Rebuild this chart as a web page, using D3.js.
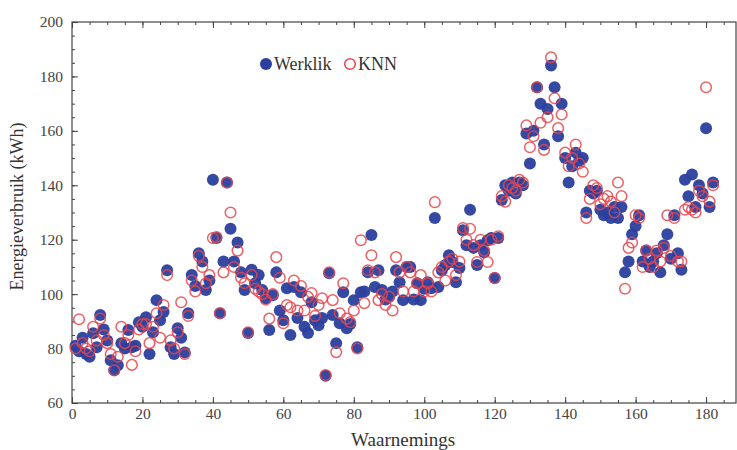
<!DOCTYPE html>
<html>
<head>
<meta charset="utf-8">
<script src="https://cdn.jsdelivr.net/npm/d3@7"></script>
<style>
  body { margin: 0; background: #fff; }
  .axis path, .axis line { stroke: #444; }
</style>
</head>
<body>
<div class="chart"></div>
<script>
var svgWidth = 737;
var svgHeight = 450;

var margin = { top: 22, right: 1, bottom: 47, left: 72 };
var width = svgWidth - margin.left - margin.right;
var height = svgHeight - margin.top - margin.bottom;

var serif = "Liberation Serif, Times New Roman, serif";

// measured energy use (Werklik) per observation
var werklik = [
  81, 79, 84, 78, 77, 85.6, 80.5, 92.3, 87, 83,
  75.7, 72, 73.9, 82, 80, 86.8, 80.5, 81, 89.7, 88,
  91.5, 78, 86, 97.8, 90.4, 93.4, 108.8, 80.5, 78, 87.5,
  84, 78.6, 93, 107, 103, 115, 112, 101.5, 105, 142,
  120.6, 93, 112, 141, 124, 112, 119, 108, 101.5, 85.7,
  109, 104, 107, 101.5, 98.5, 86.8, 99.6, 108, 94, 90.4,
  102.2, 85, 102.6, 91.2, 100.7, 88, 85.7, 97, 90.4, 88.6,
  91.2, 70, 107.7, 92.3, 82, 89.3, 100.7, 87.5, 89, 97.8,
  80.5, 100.7, 101, 108, 121.7, 102.6, 108.8, 101.5, 98, 99,
  101, 108.8, 104.4, 97.8, 110, 110, 98, 104, 97.8, 102,
  104.4, 102.2, 128, 102.6, 108.8, 110.7, 114.3, 111.8, 104.4, 109.6,
  123.5, 118, 131, 117, 110.7, 118, 115.4, 119.8, 120.6, 105.9, 120.6,
  134.6, 140, 138, 141, 137, 141, 140,
  159, 148, 160, 176, 170, 155, 168, 184, 176, 158, 170, 150,
  141, 147, 152, 149, 150, 130, 138, 137, 138, 131, 129, 130, 128, 132, 128,
  132, 108, 112, 122, 125, 129, 112, 116, 110, 112, 115, 108, 118, 122, 113,
  129, 115, 109, 142, 136, 144, 132, 140, 137, 161, 132, 141
];

// KNN predictions per observation
var knn = [
  80, 90.8, 82, 80, 79, 88, 83, 91, 85, 82,
  78, 72, 77, 88, 82, 85, 74, 79, 87, 89,
  89, 82, 88, 93, 84, 96, 107, 83, 80, 86,
  97, 78, 92, 105, 101, 114, 110, 104, 107, 120.6,
  121, 93, 108, 141, 130, 110, 116, 106, 104, 86,
  107, 102, 101, 100, 98, 91, 100, 113.6, 106, 89.3,
  96, 95.2, 105, 94, 103, 94, 99, 100.4, 92, 96,
  98.5, 70.3, 108, 97.8, 78.7, 93, 104, 91, 89.7, 94,
  80, 119.8, 96.7, 108.8, 114.3, 108, 97.8, 100, 96, 99,
  94, 113.6, 108, 101, 110, 108, 101, 104, 107, 101,
  104, 101, 133.8, 108, 110, 105, 112, 113, 107, 112,
  124.3, 120, 124, 118, 111.8, 120, 116, 111.8, 120, 105.9, 121.3,
  136, 134, 140, 139, 138, 142, 141,
  162, 154, 158, 176, 163, 153, 165, 187, 172, 161, 166, 152,
  147, 150, 155, 148, 145, 128, 135, 140, 139, 133, 135, 136, 134, 130, 141,
  136, 102, 117, 119, 129, 128, 110, 116, 113, 110, 116, 112, 117, 129, 114,
  128, 112, 112, 131, 132, 131, 130, 138, 136, 176, 134, 140
];

var xTicks = [0, 20, 40, 60, 80, 100, 120, 140, 160, 180];
var yTicks = [60, 80, 100, 120, 140, 160, 180, 200];
var seriesNames = ["Werklik", "KNN"];

var blue = "#2a3f9e";
var red = "#e8454b";

var svg = d3.select(".chart")
  .append("svg")
  .attr("width", svgWidth)
  .attr("height", svgHeight);

var chartGroup = svg.append("g")
  .attr("transform", `translate(${margin.left}, ${margin.top})`);

var xScale = d3.scaleLinear().domain([0, 188.5]).range([0, width]);
var yScale = d3.scaleLinear().domain([60, 200]).range([height, 0]);

var xMinor = d3.range(0, 189, 5);
var yMinor = d3.range(60, 201, 5);

function styleAxis(g) {
  g.select(".domain").remove();
  g.attr("font-family", serif).attr("font-size", 15.5);
  g.selectAll("text").attr("fill", "#444");
}

// minor ticks on all four sides (pointing inward)
chartGroup.append("g").attr("class", "axis")
  .attr("transform", `translate(0, ${height})`)
  .call(d3.axisBottom(xScale).tickValues(xMinor).tickSize(-3).tickFormat(""))
  .call(styleAxis);
chartGroup.append("g").attr("class", "axis")
  .call(d3.axisTop(xScale).tickValues(xMinor).tickSize(-3).tickFormat(""))
  .call(styleAxis);
chartGroup.append("g").attr("class", "axis")
  .call(d3.axisLeft(yScale).tickValues(yMinor).tickSize(-3).tickFormat(""))
  .call(styleAxis);

// major ticks
chartGroup.append("g").attr("class", "axis")
  .attr("transform", `translate(0, ${height})`)
  .call(d3.axisBottom(xScale).tickValues(xTicks).tickSizeInner(-6).tickSizeOuter(0).tickPadding(5))
  .call(styleAxis);
chartGroup.append("g").attr("class", "axis")
  .call(d3.axisTop(xScale).tickValues(xTicks).tickSizeInner(-6).tickSizeOuter(0).tickFormat(""))
  .call(styleAxis);
chartGroup.append("g").attr("class", "axis")
  .call(d3.axisLeft(yScale).tickValues(yTicks).tickSizeInner(-6).tickSizeOuter(0).tickPadding(9))
  .call(styleAxis);

// frame
chartGroup.append("rect")
  .attr("x", 0).attr("y", 0)
  .attr("width", width).attr("height", height)
  .attr("fill", "none")
  .attr("stroke", "#444")
  .attr("stroke-width", 1.2);

// actual values
chartGroup.selectAll(".werklik")
  .data(werklik)
  .enter()
  .append("circle")
  .attr("class", "werklik")
  .attr("cx", (d, i) => xScale(i + 1))
  .attr("cy", d => yScale(d))
  .attr("r", 6)
  .attr("fill", blue)
  .attr("opacity", 0.95);

// KNN predictions
chartGroup.selectAll(".knn")
  .data(knn)
  .enter()
  .append("circle")
  .attr("class", "knn")
  .attr("cx", (d, i) => xScale(i + 1))
  .attr("cy", d => yScale(d))
  .attr("r", 5.3)
  .attr("fill", "none")
  .attr("stroke", red)
  .attr("stroke-width", 1.5)
  .attr("opacity", 0.85);

// legend
var legend = svg.append("g").attr("transform", "translate(266, 64)")
  .attr("font-family", serif).attr("font-size", 18).attr("fill", "#333");
legend.append("circle").attr("cx", 0).attr("cy", 0).attr("r", 6).attr("fill", blue);
legend.append("text").attr("x", 8).attr("y", 6).text(seriesNames[0]);
legend.append("circle").attr("cx", 84).attr("cy", 0).attr("r", 5.3)
  .attr("fill", "none").attr("stroke", red).attr("stroke-width", 1.5);
legend.append("text").attr("x", 92).attr("y", 6).text(seriesNames[1]);

// axis titles
svg.append("text")
  .attr("x", margin.left + xScale(94))
  .attr("y", 446)
  .attr("text-anchor", "middle")
  .attr("font-family", serif)
  .attr("font-size", 19)
  .attr("fill", "#333")
  .text("Waarnemings");

svg.append("text")
  .attr("transform", `translate(23, ${margin.top + height / 2 - 6}) rotate(-90)`)
  .attr("text-anchor", "middle")
  .attr("font-family", serif)
  .attr("font-size", 18)
  .attr("fill", "#333")
  .text("Energieverbruik (kWh)");
</script>
</body>
</html>
